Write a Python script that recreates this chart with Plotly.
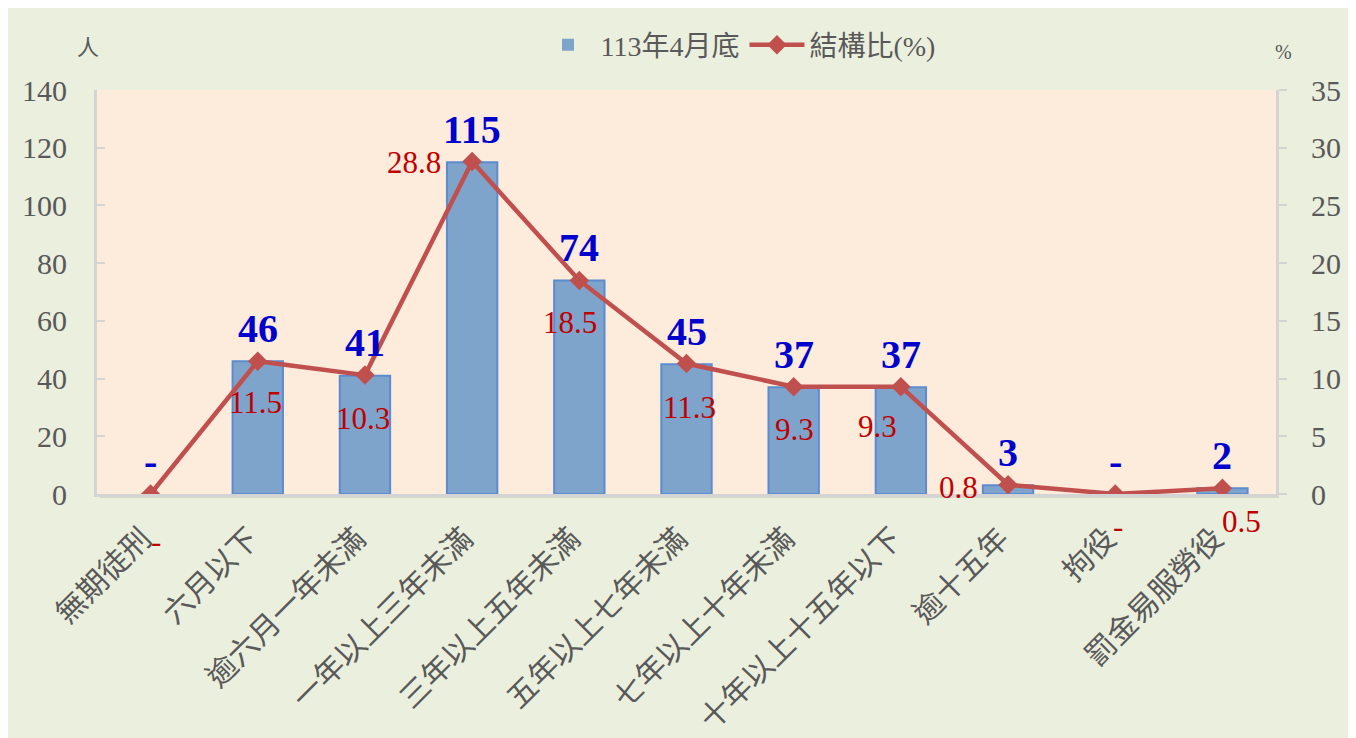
import plotly.graph_objects as go

categories = ["無期徒刑", "六月以下", "逾六月一年未滿", "一年以上三年未滿", "三年以上五年未滿",
              "五年以上七年未滿", "七年以上十年未滿", "十年以上十五年以下", "逾十五年", "拘役", "罰金易服勞役"]
counts = [0, 46, 41, 115, 74, 45, 37, 37, 3, 0, 2]
ratios = [0, 11.5, 10.3, 28.8, 18.5, 11.3, 9.3, 9.3, 0.8, 0, 0.5]
bar_name = "113年4月底"
line_name = "結構比(%)"
left_ticks = [0, 20, 40, 60, 80, 100, 120, 140]
right_ticks = [0, 5, 10, 15, 20, 25, 30, 35]

# label offsets (pixels) for ratio labels: (dx, dy downward)
ratio_label_offsets = [(5, 47), (-2, 41), (-2, 43), (-58, 1), (-9, 42), (3, 44), (1, 43),
                       (-23, 40), (-50, 3), (3, 32), (19, 33)]

OFF = 8  # page body margin
W, H = 1356 - OFF, 738 - OFF
L, R, T, B = 97 - OFF, 80, 90 - OFF, 244
PW, PH = W - L - R, H - T - B

def px_x(p):  # screenshot px -> paper fraction
    return (p - OFF - L) / PW

def px_y(p):
    return 1 - (p - OFF - T) / PH

fig = go.Figure()
fig.add_trace(go.Bar(
    x=categories, y=counts, name=bar_name, width=0.47,
    marker=dict(color="#7FA4CC",
                line=dict(color="#5B8CCF", width=[2 if v else 0 for v in counts])),
    yaxis="y",
))
fig.add_trace(go.Scatter(
    x=categories, y=ratios, name=line_name, mode="lines+markers",
    line=dict(color="#C0504D", width=4.5),
    marker=dict(symbol="diamond", size=15, color="#C0504D"),
    yaxis="y2",
))

annotations = []
for c, v in zip(categories, counts):
    annotations.append(dict(
        x=c, y=v, xref="x", yref="y", text=(str(v) if v else "-"), showarrow=False,
        xanchor="center", yanchor="middle", yshift=33,
        font=dict(family="Liberation Serif", size=40, color="#0000CC", weight="bold"),
    ))
for c, v, (dx, dy) in zip(categories, ratios, ratio_label_offsets):
    annotations.append(dict(
        x=c, y=v, xref="x", yref="y2", text=(f"{v:.1f}" if v else "-"), showarrow=False,
        xanchor="center", yanchor="middle", xshift=dx, yshift=-dy,
        font=dict(family="Liberation Serif", size=31, color="#C00000"),
    ))
annotations.append(dict(x=px_x(88), y=px_y(45), xref="paper", yref="paper", text="人",
                        xanchor="center", yanchor="middle",
                        showarrow=False, font=dict(family="Noto Sans CJK TC", size=22, color="#595959")))
annotations.append(dict(x=px_x(1283), y=px_y(52), xref="paper", yref="paper", text="%",
                        xanchor="center", yanchor="middle",
                        showarrow=False, font=dict(family="Liberation Serif", size=20, color="#595959")))

shapes = [
    dict(type="rect", xref="paper", yref="paper", layer="below",
         x0=px_x(97 + 3), x1=px_x(1276 + 3), y0=px_y(494 + 4), y1=px_y(90 + 3),
         fillcolor="#D6D8CC", line=dict(width=0)),
    dict(type="rect", xref="paper", yref="paper", layer="below",
         x0=0, x1=1, y0=0, y1=1,
         fillcolor="#FDEBDC", line=dict(width=0)),
]

fig.update_layout(
    width=W, height=H,
    margin=dict(l=L, r=R, t=T, b=B, pad=0, autoexpand=False),
    paper_bgcolor="#EBEFDE",
    plot_bgcolor="rgba(0,0,0,0)",
    showlegend=True,
    legend=dict(orientation="h", x=px_x(738), y=px_y(45), xanchor="center", yanchor="middle",
                font=dict(family="Liberation Serif, Noto Sans CJK TC", size=28, color="#595959"),
                bgcolor="rgba(0,0,0,0)", itemwidth=55, traceorder="normal"),
    xaxis=dict(type="category", range=[-0.5, 10.5], showgrid=False, zeroline=False,
               showline=True, linecolor="#D4D4D4", linewidth=3, ticks="", automargin=False,
               tickangle=-45, ticklabelstandoff=12, ticklabelshift=-8,
               tickfont=dict(family="Noto Sans CJK TC", size=30, color="#595959")),
    yaxis=dict(range=[0, 140], tickvals=left_ticks, showgrid=False, zeroline=False,
               showline=True, linecolor="#D4D4D4", linewidth=3, automargin=False,
               ticks="inside", ticklen=8, tickwidth=2, tickcolor="#D4D4D4",
               ticklabelstandoff=21,
               tickfont=dict(family="Liberation Serif", size=30, color="#595959")),
    yaxis2=dict(range=[0, 35], tickvals=right_ticks, overlaying="y", side="right",
                showgrid=False, zeroline=False, automargin=False,
                showline=True, linecolor="#D4D4D4", linewidth=3,
                ticks="outside", ticklen=8, tickwidth=2, tickcolor="#D4D4D4",
                ticklabelstandoff=18,
                tickfont=dict(family="Liberation Serif", size=30, color="#595959")),
    annotations=annotations,
    shapes=shapes,
    bargap=0.5,
)

fig.write_html("out.html")
